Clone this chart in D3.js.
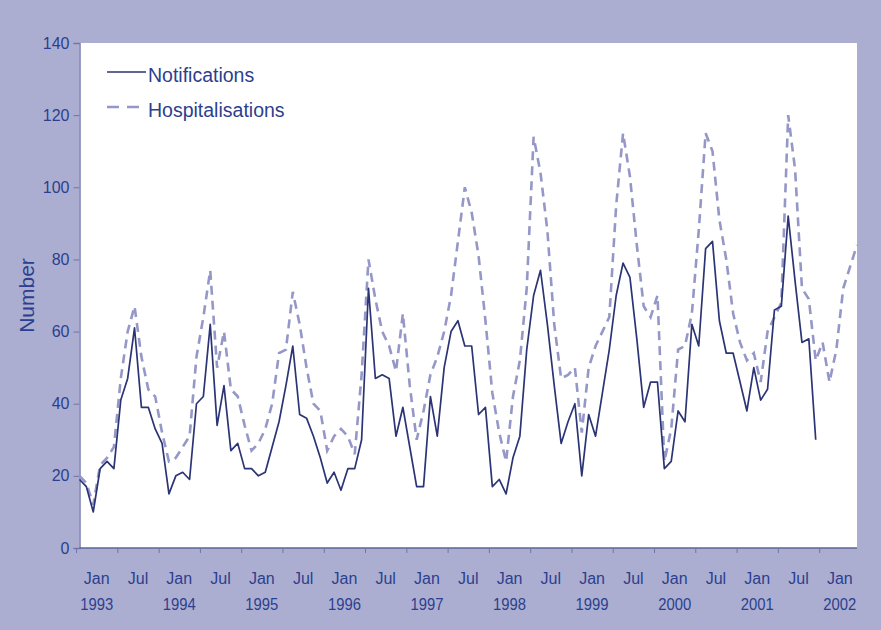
<!DOCTYPE html>
<html>
<head>
<meta charset="utf-8">
<script src="https://cdn.jsdelivr.net/npm/d3@7"></script>
<style>
  html, body { margin: 0; padding: 0; background: #abaed1; }
  svg { display: block; }
  text { font-family: Arial, "Liberation Sans", sans-serif; }
</style>
</head>
<body>
<svg id="chart" width="881" height="630"></svg>
<script>
// ---- data (monthly, starting Jan 1993) ----
const startYear = 1993;
const notifications = [
  19, 17, 10, 22, 24, 22, 41, 47, 61, 39, 39, 33,
  29, 15, 20, 21, 19, 40, 42, 62, 34, 45, 27, 29,
  22, 22, 20, 21, 28, 35, 45, 56, 37, 36, 31, 25,
  18, 21, 16, 22, 22, 30, 72, 47, 48, 47, 31, 39,
  28, 17, 17, 42, 31, 50, 60, 63, 56, 56, 37, 39,
  17, 19, 15, 25, 31, 55, 70, 77, 62, 45, 29, 35,
  40, 20, 37, 31, 43, 55, 70, 79, 75, 58, 39, 46,
  46, 22, 24, 38, 35, 62, 56, 83, 85, 63, 54, 54,
  46, 38, 50, 41, 44, 66, 67, 92, 74, 57, 58, 30
];
const hospitalisations = [
  20, 18, 12, 23, 25, 28, 47, 60, 67, 53, 44, 42,
  32, 24, 25, 28, 31, 53, 64, 77, 50, 60, 44, 42,
  34, 27, 29, 33, 40, 54, 55, 71, 62, 50, 40, 38,
  27, 31, 33, 31, 26, 48, 80, 69, 60, 56, 49, 65,
  45, 30, 38, 48, 53, 60, 70, 85, 100, 93, 81, 63,
  43, 32, 24, 42, 52, 72, 114, 104, 88, 62, 47, 48,
  50, 32, 50, 56, 60, 64, 95, 115, 103, 84, 67, 64,
  70, 24, 33, 55, 56, 65, 88, 115, 110, 91, 80, 65,
  57, 52, 54, 46, 60, 64, 68, 120, 105, 72, 69, 52,
  57, 46, 55, 72, 78, 84
];
const monthLabels = ["Jan", "Jul"];
const yearLabels = ["1993","1994","1995","1996","1997","1998","1999","2000","2001","2002"];
const yTicks = [0, 20, 40, 60, 80, 100, 120, 140];
const seriesNames = ["Notifications", "Hospitalisations"];

// ---- layout ----
const svg = d3.select("#chart");
const plot = { left: 79.5, right: 857, top: 43, bottom: 548 };
const textColor = "#2c3f8e";
const nColor = "#2b3474";
const hColor = "#9597c7";

const x = d3.scaleLinear().domain([0, 113]).range([plot.left, plot.right]);
const y = d3.scaleLinear().domain([0, 140]).range([plot.bottom, plot.top]);

// background frame
svg.append("rect").attr("x", 0).attr("y", 0).attr("width", 881).attr("height", 630).attr("fill", "#abaed1");
// plot area
svg.append("rect")
  .attr("x", plot.left).attr("y", plot.top)
  .attr("width", plot.right - plot.left).attr("height", plot.bottom - plot.top)
  .attr("fill", "#ffffff");

// y axis
const yAxis = d3.axisLeft(y).tickValues(yTicks).tickSize(6).tickPadding(4);
const gy = svg.append("g").attr("transform", `translate(${plot.left},0)`).call(yAxis);
gy.select(".domain").attr("stroke", "#7a7fae").attr("stroke-width", 1.5);
gy.selectAll(".tick line").attr("stroke", "#6f74a6");
gy.selectAll(".tick text").attr("fill", textColor).style("font-size", "16px")
  .style("font-family", "Arial, 'Liberation Sans', sans-serif");

// x axis: ticks every 6 months at slot boundaries
const tickMonths = d3.range(0, 109, 6).map(m => m - 0.5);
const xAxis = d3.axisBottom(x).tickValues(tickMonths).tickSize(5).tickFormat("");
const gx = svg.append("g").attr("transform", `translate(0,${plot.bottom})`).call(xAxis);
gx.select(".domain").attr("stroke", "#5d6396").attr("stroke-width", 1.5)
  .attr("d", `M${plot.left},0H${plot.right}`);
gx.selectAll(".tick line").attr("stroke", "#6f74a6");

// x labels: centred between ticks
const labelMonths = d3.range(0, 112, 6);
const gl = svg.append("g");
labelMonths.forEach((m, i) => {
  const cx = x(m + 2.5);
  gl.append("text").attr("x", cx).attr("y", 584).attr("text-anchor", "middle")
    .attr("fill", textColor).style("font-size", "16px").text(monthLabels[i % 2]);
  if (i % 2 === 0) {
    gl.append("text").attr("x", cx).attr("y", 610).attr("text-anchor", "middle")
      .attr("fill", textColor).style("font-size", "16.5px").attr("textLength", 33)
      .attr("lengthAdjust", "spacingAndGlyphs").text(yearLabels[i / 2]);
  }
});

// y title
svg.append("text")
  .attr("transform", `translate(34,${(plot.top + plot.bottom) / 2}) rotate(-90)`)
  .attr("text-anchor", "middle").attr("fill", textColor)
  .style("font-size", "21px").text("Number");

// lines
const line = d3.line().x((d, i) => x(i)).y(d => y(d));
svg.append("path").datum(hospitalisations)
  .attr("d", line).attr("fill", "none")
  .attr("stroke", hColor).attr("stroke-width", 2.6)
  .attr("stroke-dasharray", "9,6");
svg.append("path").datum(notifications)
  .attr("d", line).attr("fill", "none")
  .attr("stroke", nColor).attr("stroke-width", 1.7)
  .attr("stroke-linejoin", "round");

// legend
const lg = svg.append("g");
lg.append("line").attr("x1", 107).attr("x2", 146).attr("y1", 72).attr("y2", 72)
  .attr("stroke", nColor).attr("stroke-width", 1.7);
lg.append("text").attr("x", 148).attr("y", 82).attr("fill", textColor)
  .style("font-size", "19.5px").text(seriesNames[0]);
lg.append("line").attr("x1", 107).attr("x2", 146).attr("y1", 107).attr("y2", 107)
  .attr("stroke", hColor).attr("stroke-width", 2.6).attr("stroke-dasharray", "12,8");
lg.append("text").attr("x", 148).attr("y", 117).attr("fill", textColor)
  .style("font-size", "19.5px").text(seriesNames[1]);
</script>
</body>
</html>
